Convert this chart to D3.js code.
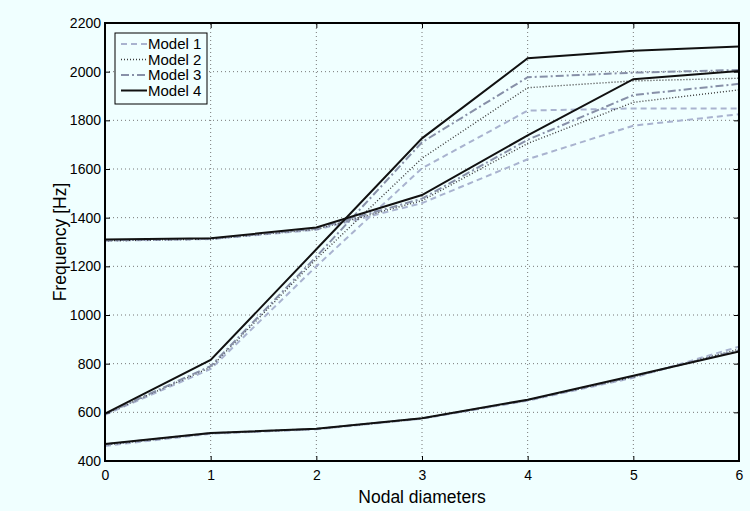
<!DOCTYPE html>
<html>
<head>
<meta charset="utf-8">
<script src="https://cdn.jsdelivr.net/npm/d3@7"></script>
<style>
  html, body { margin: 0; padding: 0; background: #f0ffff; }
  text { font-family: "Liberation Sans", Arial, sans-serif; }
</style>
</head>
<body>
<div id="vis"></div>
<script>
const width = 750;
const height = 511;
const margin = { top: 23, right: 11, bottom: 50, left: 105 };

// Data
const nodalDiameters = [0, 1, 2, 3, 4, 5, 6];
const xTicks = [0, 1, 2, 3, 4, 5, 6];
const yTicks = [400, 600, 800, 1000, 1200, 1400, 1600, 1800, 2000, 2200];
const modelNames = ["Model 1", "Model 2", "Model 3", "Model 4"];

// three mode families per model
const model1Low = [462, 512, 530, 574, 648, 742, 870];
const model1Mid = [1305, 1312, 1350, 1460, 1640, 1778, 1825];
const model1High = [590, 778, 1200, 1603, 1840, 1849, 1849];

const model2Low = [466, 513, 531, 575, 650, 745, 860];
const model2Mid = [1305, 1312, 1352, 1470, 1705, 1874, 1925];
const model2High = [592, 785, 1230, 1644, 1934, 1962, 1973];

const model3Low = [468, 514, 532, 575, 650, 747, 855];
const model3Mid = [1307, 1313, 1355, 1478, 1720, 1904, 1950];
const model3High = [593, 790, 1240, 1710, 1977, 1996, 2007];

const model4Low = [470, 515, 533, 576, 652, 750, 850];
const model4Mid = [1310, 1315, 1360, 1493, 1738, 1969, 2003];
const model4High = [595, 815, 1270, 1726, 2055, 2086, 2103];

const series = [
  { name: "Model 1", curves: [model1Low, model1Mid, model1High], color: "#a9b3cf", width: 2, dash: "6,4" },
  { name: "Model 2", curves: [model2Low, model2Mid, model2High], color: "#3a3a3a", width: 1.4, dash: "1,2" },
  { name: "Model 3", curves: [model3Low, model3Mid, model3High], color: "#8790a8", width: 2, dash: "8,3,2,3" },
  { name: "Model 4", curves: [model4Low, model4Mid, model4High], color: "#111111", width: 2, dash: null }
];

const xScale = d3.scaleLinear().domain([0, 6]).range([margin.left, width - margin.right]);
const yScale = d3.scaleLinear().domain([400, 2200]).range([height - margin.bottom, margin.top]);

const svg = d3.select("#vis").append("svg")
  .attr("width", width)
  .attr("height", height);

svg.append("rect")
  .attr("width", width).attr("height", height)
  .attr("fill", "#f0ffff");

// Grid
const grid = svg.append("g").attr("stroke", "#777").attr("stroke-dasharray", "1,3").attr("stroke-width", 1);
xTicks.slice(1, -1).forEach(t => {
  grid.append("line")
    .attr("x1", xScale(t)).attr("x2", xScale(t))
    .attr("y1", yScale(400)).attr("y2", yScale(2200));
});
yTicks.slice(1, -1).forEach(t => {
  grid.append("line")
    .attr("x1", xScale(0)).attr("x2", xScale(6))
    .attr("y1", yScale(t)).attr("y2", yScale(t));
});

// Lines
const line = d3.line()
  .x((d, i) => xScale(nodalDiameters[i]))
  .y(d => yScale(d));

series.forEach(s => {
  s.curves.forEach(c => {
    svg.append("path")
      .datum(c)
      .attr("d", line)
      .attr("fill", "none")
      .attr("stroke", s.color)
      .attr("stroke-width", s.width)
      .attr("stroke-dasharray", s.dash);
  });
});

// Axes, ticks inward on all sides
const axisStyle = g => {
  g.select(".domain").remove();
  g.selectAll("text").attr("font-size", 14).attr("fill", "#000")
    .style("font-family", "Liberation Sans, Arial, sans-serif");
  g.selectAll("line").attr("stroke", "#000");
};

svg.append("g")
  .attr("transform", `translate(0,${height - margin.bottom})`)
  .call(d3.axisBottom(xScale).tickValues(xTicks).tickFormat(d3.format("d")).tickSizeInner(-5).tickPadding(9))
  .call(axisStyle);

svg.append("g")
  .attr("transform", `translate(0,${margin.top})`)
  .call(d3.axisTop(xScale).tickValues(xTicks).tickSizeInner(-5).tickFormat(""))
  .call(axisStyle);

svg.append("g")
  .attr("transform", `translate(${margin.left},0)`)
  .call(d3.axisLeft(yScale).tickValues(yTicks).tickFormat(d3.format("d")).tickSizeInner(-5).tickPadding(4))
  .call(axisStyle);

svg.append("g")
  .attr("transform", `translate(${width - margin.right},0)`)
  .call(d3.axisRight(yScale).tickValues(yTicks).tickSizeInner(-5).tickFormat(""))
  .call(axisStyle);

// Frame
svg.append("rect")
  .attr("x", xScale(0)).attr("y", yScale(2200))
  .attr("width", xScale(6) - xScale(0))
  .attr("height", yScale(400) - yScale(2200))
  .attr("fill", "none")
  .attr("stroke", "#000")
  .attr("stroke-width", 2);

// Axis titles
svg.append("text")
  .attr("x", (xScale(0) + xScale(6)) / 2)
  .attr("y", 503)
  .attr("text-anchor", "middle")
  .attr("font-size", 17.5)
  .text("Nodal diameters");

svg.append("text")
  .attr("transform", `translate(66,${(yScale(400) + yScale(2200)) / 2}) rotate(-90)`)
  .attr("text-anchor", "middle")
  .attr("font-size", 17.5)
  .text("Frequency [Hz]");

// Legend
const legend = svg.append("g").attr("transform", "translate(115,33)");
legend.append("rect")
  .attr("width", 92).attr("height", 71)
  .attr("fill", "#f0ffff")
  .attr("stroke", "#000")
  .attr("stroke-width", 1);

series.forEach((s, i) => {
  const y = 11 + i * 15.5;
  legend.append("line")
    .attr("x1", 6).attr("x2", 32)
    .attr("y1", y).attr("y2", y)
    .attr("stroke", s.color)
    .attr("stroke-width", s.width)
    .attr("stroke-dasharray", s.dash);
  legend.append("text")
    .attr("x", 33).attr("y", y + 5)
    .attr("font-size", 15)
    .text(modelNames[i]);
});
</script>
</body>
</html>
